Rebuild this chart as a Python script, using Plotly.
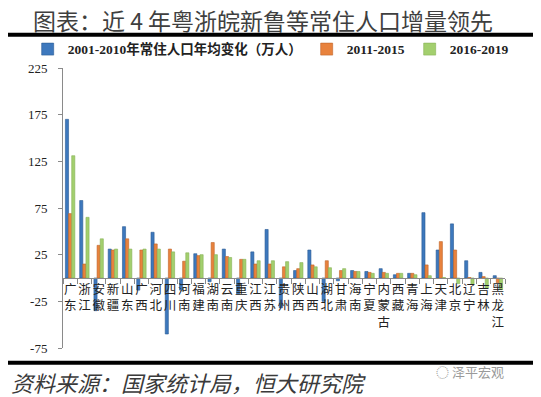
import plotly.graph_objects as go

provinces = ["广东", "浙江", "安徽", "新疆", "山东", "广西", "河北", "四川", "河南", "福建",
             "湖南", "云南", "重庆", "江西", "江苏", "贵州", "陕西", "山西", "湖北", "甘肃",
             "海南", "宁夏", "内蒙古", "西藏", "青海", "上海", "天津", "北京", "辽宁", "吉林", "黑龙江"]
v2001_2010 = [170, 83, -35, 31, 55, -13, 49, -60, -13, 26,
              -4, 31, -17, 28, 52, -32, 8, 30, -25, -3,
              8, 7, 10, 3.5, 5, 70, 30, 58, 18.5, 6, 2.5]
v2011_2015 = [69, 15, 35, 30, 42, 30, 36.5, 31, 18, 24,
              38, 23, 20, 15, 15, 12, 10, 14, 18.5, 8,
              7, 6, 6, 5, 5, 14, 39, 30, 0.5, 1.5, -5]
v2016_2019 = [131, 65, 42, 31, 31, 31, 31, 28, 27, 25,
              25, 22, 20, 18.5, 18.5, 17.5, 16.5, 12, 11, 10,
              7, 5, 5, 5, 3.5, 2.5, 0.5, -6, -7, -11, -12.5]
series_names = ["2001-2010年常住人口年均变化（万人）", "2011-2015", "2016-2019"]
y_ticks = [-75, -25, 25, 75, 125, 175, 225]
y_min, y_max = -75, 225

title_text = "图表：近 4 年粤浙皖新鲁等常住人口增量领先"
source_text = "资料来源：国家统计局，恒大研究院"
watermark_text = "泽平宏观"

colors = ["#3d78bd", "#e8823d", "#a3cf6e"]
edges = ["#2a5a94", "#c0652a", "#86b255"]

# window is 541x397; the page body has a default 8px margin, so the figure
# is sized and positioned to compensate.
WIN_W, WIN_H = 541, 397
OFF = 8
W, H = WIN_W - OFF, WIN_H - OFF
plot_left, plot_right, plot_top, plot_bottom = 63.3, 505, 67.7, 348.3  # window px
ml = plot_left - OFF
mr = W - (plot_right - OFF)
mt = plot_top - OFF
mb = H - (plot_bottom - OFF)
pw, ph = W - ml - mr, H - mt - mb

def px_to_paper_y(py):
    return (H - mb - (py - OFF)) / ph

def px_to_paper_x(px):
    return ((px - OFF) - ml) / pw

cat_labels = ["<br>".join(list(p)) for p in provinces]

fig = go.Figure()
for name, vals, c, e in zip(series_names, [v2001_2010, v2011_2015, v2016_2019], colors, edges):
    fig.add_trace(go.Bar(x=cat_labels, y=vals, name=name,
                         marker=dict(color=c, line=dict(color=e, width=0.6))))

zero_pos = (0 - y_min) / (y_max - y_min)

fig.update_layout(
    width=W, height=H,
    margin=dict(l=ml, r=mr, t=mt, b=mb, pad=0, autoexpand=False),
    paper_bgcolor="white", plot_bgcolor="white",
    barmode="group", bargap=0.34, bargroupgap=0,
    showlegend=True,
    legend=dict(orientation="h", x=px_to_paper_x(28), xref="paper", xanchor="left",
                y=px_to_paper_y(49), yref="paper", yanchor="middle",
                font=dict(family="Liberation Serif, Noto Sans CJK SC", size=13.5, color="#222222", weight="bold"),
                itemwidth=30, tracegroupgap=0, itemclick=False, bgcolor="rgba(0,0,0,0)"),
    xaxis=dict(type="category", anchor="free", position=zero_pos,
               tickmode="array", tickvals=cat_labels, ticktext=cat_labels,
               showline=True, linecolor="#8a8a8a", linewidth=1,
               ticks="outside", ticklen=5, tickcolor="#8a8a8a", tickson="boundaries",
               tickangle=0, showgrid=False, zeroline=False,
               tickfont=dict(family="Noto Sans CJK SC", size=12.5, color="#222222")),
    yaxis=dict(range=[y_min, y_max], tickvals=y_ticks, ticktext=[str(t) for t in y_ticks],
               showline=True, linecolor="#8a8a8a", linewidth=1,
               ticks="outside", ticklen=4, tickcolor="#8a8a8a",
               showgrid=False, zeroline=False, ticklabelstandoff=8,
               tickfont=dict(family="Liberation Serif", size=13, color="#222222")),
)

# title
fig.add_annotation(text=title_text, xref="paper", yref="paper",
                   x=px_to_paper_x(263), y=px_to_paper_y(20), xanchor="center", yanchor="middle",
                   showarrow=False,
                   font=dict(family="Noto Sans CJK SC", size=23, color="#3f3f3f"))
# footer
fig.add_annotation(text=source_text, xref="paper", yref="paper",
                   x=px_to_paper_x(9), y=px_to_paper_y(382), xanchor="left", yanchor="middle",
                   showarrow=False,
                   font=dict(family="Noto Sans CJK SC", size=22, color="#3a3a3a", style="italic"))
fig.add_annotation(text="◌ " + watermark_text, xref="paper", yref="paper",
                   x=px_to_paper_x(506), y=px_to_paper_y(372), xanchor="right", yanchor="middle",
                   showarrow=False,
                   font=dict(family="Noto Sans CJK SC", size=13, color="#9a9a9a"))

# separator lines
for py in (34.5, 363):
    fig.add_shape(type="line", xref="paper", yref="paper",
                  x0=px_to_paper_x(0), x1=px_to_paper_x(WIN_W),
                  y0=px_to_paper_y(py), y1=px_to_paper_y(py),
                  line=dict(color="#000000", width=4))

fig.write_html("out.html")
